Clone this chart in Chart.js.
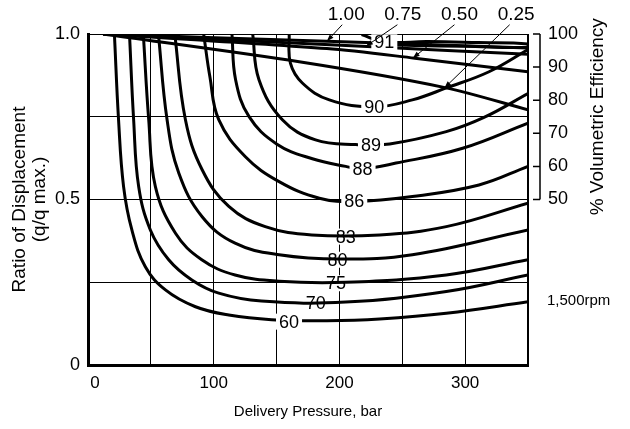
<!DOCTYPE html>
<html>
<head>
<meta charset="utf-8">
<script src="https://cdn.jsdelivr.net/npm/chart.js@4/dist/chart.umd.min.js"></script>
<style>
  html, body { margin: 0; padding: 0; background: #fff; }
</style>
</head>
<body>
<canvas id="chart" width="630" height="429"></canvas>
<script>
const FONT = "'Liberation Sans', Arial, sans-serif";

// efficiency contours at 1,500rpm: [pressure (bar), q/q max]
const eff60 = [[21, 1.0], [24.3, 0.741], [28.3, 0.539], [34.9, 0.408], [45.6, 0.297], [61.6, 0.227], [85.5, 0.176], [112, 0.151], [146, 0.137], [190, 0.134], [232, 0.139], [285, 0.156], [350, 0.191]];
const eff70 = [[33, 1.0], [36.3, 0.741], [40.3, 0.539], [49.6, 0.408], [64.2, 0.318], [82.6, 0.257], [104, 0.217], [138, 0.193], [205, 0.19], [285, 0.222], [350, 0.272]];
const eff75 = [[44, 1.0], [48.3, 0.741], [53.6, 0.539], [69.6, 0.398], [90.5, 0.318], [117, 0.272], [152, 0.253], [205, 0.25], [285, 0.272], [350, 0.318]];
const eff80 = [[56, 1.0], [62.9, 0.741], [72.2, 0.58], [90.8, 0.448], [117, 0.368], [152, 0.333], [200, 0.32], [258, 0.333], [350, 0.408]];
const eff83 = [[69, 1.0], [77.5, 0.741], [90.8, 0.59], [112, 0.479], [141, 0.418], [178, 0.393], [232, 0.393], [285, 0.418], [350, 0.489]];
const eff86 = [[92, 1.0], [97, 0.87], [104, 0.741], [125, 0.63], [152, 0.554], [184, 0.504], [212, 0.494], [258, 0.509], [311, 0.544], [350, 0.6]];
const eff88 = [[114.5, 1.0], [117.4, 0.862], [128, 0.751], [150, 0.668], [178.5, 0.623], [205, 0.6], [218, 0.593], [245, 0.61], [298, 0.655], [350, 0.731]];
const eff89 = [[131, 1.0], [136, 0.862], [154.6, 0.741], [181, 0.68], [213, 0.666], [240, 0.668], [285, 0.705], [315, 0.748], [350, 0.82]];
const eff90 = [[160, 1.0], [161, 0.912], [170.5, 0.852], [192, 0.801], [228, 0.78], [258, 0.801], [285, 0.837], [319, 0.886], [350, 0.953]];
const eff91 = [[217.6, 0.998], [236, 0.976], [270, 0.977], [310, 0.974], [350, 0.97], [350, 0.96], [300, 0.963], [260, 0.965], [236, 0.968]];

const effLevels = ["60", "70", "75", "80", "83", "86", "88", "89", "90", "91"];
const effCurves = [eff60, eff70, eff75, eff80, eff83, eff86, eff88, eff89, eff90, eff91];
const effLabelAt = [[159.9, 0.131], [181.2, 0.188], [197.2, 0.247], [198.4, 0.318], [205.1, 0.388], [211.8, 0.494], [218.4, 0.592], [225.1, 0.665], [227.7, 0.78], [235.7, 0.975]];
const strikeLabels = ["70", "75", "80", "83"];

// % volumetric efficiency for each displacement ratio: [pressure (bar), %]
const vol100 = [[12, 100], [190, 97.8], [350, 95.8]];
const vol075 = [[12, 100], [222, 96.2], [350, 93.9]];
const vol050 = [[12, 100], [190, 95.6], [260, 92.7], [350, 88.6]];
const vol025 = [[12, 100], [168, 91.6], [284, 83.8], [350, 77.1]];

const dispLabels = ["1.00", "0.75", "0.50", "0.25"];
const dispLines = [vol100, vol075, vol050, vol025];
const dispLabelAt = [[205.4, 1.058], [250.4, 1.058], [295.5, 1.058], [340.6, 1.058]];
const arrowFrom = [[202.2, 1.028], [246.1, 1.028], [291.5, 1.028], [335.4, 1.028]];
const arrowTo = [[190, 0.978], [221.1, 0.963], [258.3, 0.927], [283.5, 0.837]];

const xTicks = [0, 100, 200, 300];
const yTicks = [0, 0.5, 1];
const volTicks = [50, 60, 70, 80, 90, 100];
const speedLabel = "1,500rpm";
const speedAt = 0.194;

const datasets = [];
effCurves.forEach((pts, i) => {
  datasets.push({
    label: effLevels[i],
    data: pts.map(p => ({ x: p[0], y: p[1] })),
    yAxisID: "y",
    showLine: true,
    borderColor: "#000",
    borderWidth: 3,
    pointRadius: 0,
    tension: 0.4,
  });
});
dispLines.forEach((pts, i) => {
  datasets.push({
    label: dispLabels[i],
    data: pts.map(p => ({ x: p[0], y: p[1] })),
    yAxisID: "y2",
    showLine: true,
    borderColor: "#000",
    borderWidth: 3,
    pointRadius: 0,
    tension: 0.3,
  });
});

const labelBox = (ctx, text, px, py) => {
  const w = ctx.measureText(text).width + 6;
  ctx.fillStyle = "#fff";
  ctx.fillRect(px - w / 2, py - 8, w, 16);
};

const overlay = {
  id: "overlay",
  beforeDatasetsDraw(chart) {
    const { ctx, scales: { x, y } } = chart;
    ctx.save();
    ctx.font = "18px " + FONT;
    effLevels.forEach((t, i) => {
      if (!strikeLabels.includes(t)) return;
      labelBox(ctx, t, x.getPixelForValue(effLabelAt[i][0]), y.getPixelForValue(effLabelAt[i][1]));
    });
    ctx.restore();
  },
  afterDatasetsDraw(chart) {
    const { ctx, scales: { x, y, y2 } } = chart;
    ctx.save();
    ctx.font = "18px " + FONT;
    ctx.textAlign = "center";
    ctx.textBaseline = "middle";
    effLevels.forEach((t, i) => {
      const px = x.getPixelForValue(effLabelAt[i][0]);
      const py = y.getPixelForValue(effLabelAt[i][1]);
      if (!strikeLabels.includes(t)) labelBox(ctx, t, px, py);
      ctx.fillStyle = "#000";
      ctx.fillText(t, px, py + 1);
    });

    // displacement arrows
    ctx.strokeStyle = "#000";
    ctx.fillStyle = "#000";
    ctx.lineWidth = 1;
    ctx.font = "19px " + FONT;
    dispLabels.forEach((t, i) => {
      const x1 = x.getPixelForValue(arrowFrom[i][0]), y1 = y.getPixelForValue(arrowFrom[i][1]);
      const x2 = x.getPixelForValue(arrowTo[i][0]), y2p = y.getPixelForValue(arrowTo[i][1]);
      ctx.beginPath();
      ctx.moveTo(x1, y1);
      ctx.lineTo(x2, y2p);
      ctx.stroke();
      const a = Math.atan2(y2p - y1, x2 - x1);
      ctx.beginPath();
      ctx.moveTo(x2, y2p);
      ctx.lineTo(x2 - 7 * Math.cos(a) + 2.5 * Math.sin(a), y2p - 7 * Math.sin(a) - 2.5 * Math.cos(a));
      ctx.lineTo(x2 - 7 * Math.cos(a) - 2.5 * Math.sin(a), y2p - 7 * Math.sin(a) + 2.5 * Math.cos(a));
      ctx.closePath();
      ctx.fill();
      ctx.fillText(t, x.getPixelForValue(dispLabelAt[i][0]), y.getPixelForValue(dispLabelAt[i][1]));
    });

    // right-hand volumetric efficiency bracket
    const bx = y2.left + 12;
    ctx.lineWidth = 1.5;
    ctx.beginPath();
    ctx.moveTo(bx, y2.getPixelForValue(100));
    ctx.lineTo(bx, y2.getPixelForValue(50));
    volTicks.forEach(v => {
      const ty = y2.getPixelForValue(v);
      ctx.moveTo(bx - 7, ty);
      ctx.lineTo(bx, ty);
    });
    ctx.stroke();

    ctx.save();
    ctx.translate(y2.left + 70, y2.getPixelForValue(75));
    ctx.rotate(-Math.PI / 2);
    ctx.font = "19px " + FONT;
    ctx.fillText("% Volumetric Efficiency", 0, 0);
    ctx.restore();

    ctx.font = "15px " + FONT;
    ctx.textAlign = "left";
    ctx.fillText(speedLabel, y2.left + 19, y.getPixelForValue(speedAt));
    ctx.restore();
  },
};

new Chart(document.getElementById("chart"), {
  type: "scatter",
  data: { datasets: datasets },
  plugins: [overlay],
  options: {
    responsive: false,
    animation: false,
    layout: { padding: { top: 34, left: 0, right: 0, bottom: 0 } },
    plugins: {
      legend: { display: false },
      tooltip: { enabled: false },
    },
    scales: {
      x: {
        type: "linear",
        min: 0,
        max: 350,
        afterFit: s => { s.height = 64; },
        border: { color: "#000", width: 3 },
        grid: {
          color: "#000",
          lineWidth: c => (c.tick && c.tick.value === 350 ? 2 : 1),
          drawTicks: false,
        },
        ticks: {
          stepSize: 50,
          autoSkip: false,
          maxRotation: 0,
          padding: 8,
          color: "#000",
          font: { family: FONT, size: 17 },
          // the 0 label sits a little right of the axis line
          callback: v => (v === 0 ? "   0" : xTicks.includes(v) ? String(v) : ""),
        },
        title: {
          display: true,
          text: "Delivery Pressure, bar",
          color: "#000",
          font: { family: FONT, size: 15 },
          padding: { top: 0, bottom: 8 },
        },
      },
      y: {
        type: "linear",
        min: 0,
        max: 1,
        afterFit: s => { s.width = 88; },
        border: { color: "#000", width: 3 },
        grid: { color: "#000", lineWidth: 1, drawTicks: false },
        ticks: {
          stepSize: 0.25,
          autoSkip: false,
          padding: 8,
          color: "#000",
          font: { family: FONT, size: 18 },
          callback: v => (yTicks.includes(v) ? (v === 0 ? "0" : v.toFixed(1)) : ""),
        },
        title: {
          display: true,
          text: ["Ratio of Displacement", "(q/q max.)"],
          color: "#000",
          font: { family: FONT, size: 19, lineHeight: 1.05 },
          padding: { top: 10, bottom: 0 },
        },
      },
      y2: {
        type: "linear",
        position: "right",
        min: 0,
        max: 100,
        afterFit: s => { s.width = 102; },
        border: { display: false },
        grid: { display: false, drawTicks: false },
        ticks: {
          stepSize: 10,
          autoSkip: false,
          padding: 20,
          color: "#000",
          font: { family: FONT, size: 18 },
          callback: v => (volTicks.includes(v) ? String(v) : ""),
        },
      },
    },
  },
});
</script>
</body>
</html>
